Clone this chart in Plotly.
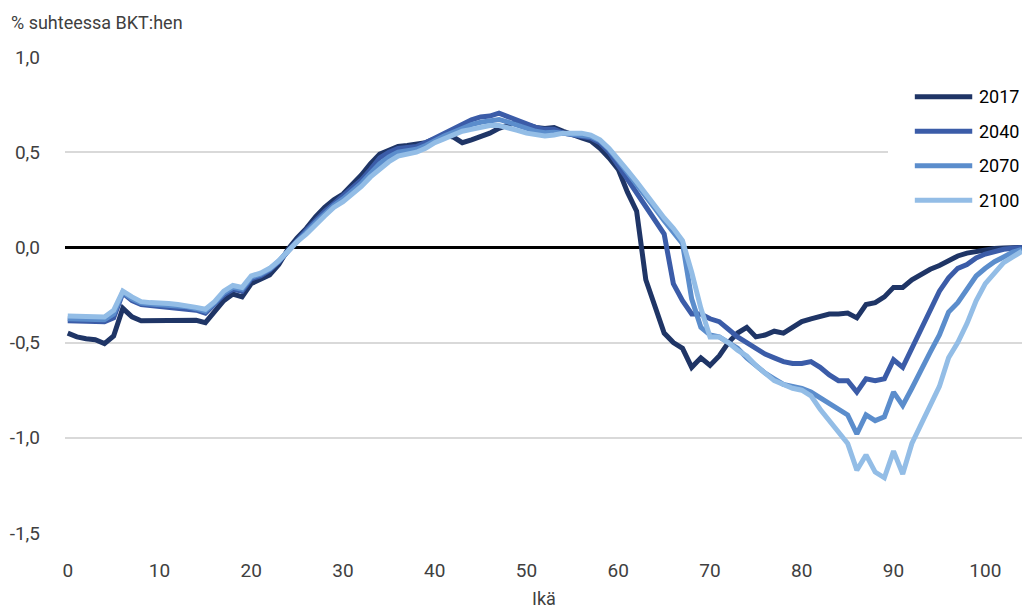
import plotly.graph_objects as go

# Ikä 0-104
ages = list(range(105))

y2017 = [-0.45, -0.47, -0.48, -0.485, -0.505, -0.465, -0.32, -0.365, -0.385, -0.385,
         -0.383, -0.383, -0.382, -0.382, -0.383, -0.395, -0.34, -0.28, -0.245, -0.26,
         -0.19, -0.17, -0.145, -0.09, -0.01, 0.05, 0.10, 0.16, 0.21, 0.25,
         0.28, 0.33, 0.38, 0.44, 0.49, 0.51, 0.53, 0.535, 0.54, 0.55,
         0.57, 0.59, 0.58, 0.55, 0.565, 0.58, 0.60, 0.625, 0.645, 0.66,
         0.645, 0.63, 0.625, 0.63, 0.61, 0.59, 0.575, 0.56, 0.52, 0.47,
         0.41, 0.29, 0.19, -0.17, -0.32, -0.45, -0.50, -0.53, -0.63, -0.58,
         -0.62, -0.57, -0.50, -0.45, -0.42, -0.47, -0.46, -0.44, -0.45, -0.42,
         -0.39, -0.375, -0.365, -0.35, -0.35, -0.345, -0.37, -0.30, -0.29, -0.26,
         -0.21, -0.21, -0.17, -0.14, -0.115, -0.095, -0.07, -0.045, -0.03, -0.02,
         -0.012, -0.006, -0.003, -0.001, 0.0]

y2040 = [-0.385, -0.385, -0.385, -0.385, -0.39, -0.37, -0.24, -0.28, -0.30, -0.305,
         -0.31, -0.31, -0.315, -0.32, -0.33, -0.345, -0.30, -0.25, -0.22, -0.23,
         -0.165, -0.15, -0.12, -0.075, -0.02, 0.04, 0.09, 0.14, 0.19, 0.23,
         0.27, 0.31, 0.355, 0.41, 0.47, 0.50, 0.52, 0.525, 0.53, 0.55,
         0.575, 0.60, 0.62, 0.645, 0.67, 0.685, 0.69, 0.705, 0.685, 0.665,
         0.645, 0.63, 0.62, 0.62, 0.60, 0.59, 0.585, 0.575, 0.55, 0.50,
         0.43, 0.36, 0.29, 0.22, 0.14, 0.07, -0.19, -0.28, -0.35, -0.35,
         -0.375, -0.39, -0.43, -0.47, -0.50, -0.53, -0.56, -0.58, -0.60, -0.61,
         -0.61, -0.60, -0.63, -0.67, -0.70, -0.70, -0.76, -0.69, -0.70, -0.69,
         -0.59, -0.63, -0.53, -0.43, -0.33, -0.23, -0.16, -0.11, -0.09, -0.055,
         -0.035, -0.02, -0.01, -0.004, 0.0]

y2070 = [-0.375, -0.375, -0.375, -0.375, -0.38, -0.35, -0.235, -0.27, -0.292, -0.297,
         -0.30, -0.302, -0.307, -0.312, -0.322, -0.335, -0.292, -0.24, -0.21, -0.22,
         -0.157, -0.142, -0.115, -0.072, -0.02, 0.035, 0.08, 0.13, 0.178, 0.22,
         0.255, 0.295, 0.337, 0.39, 0.44, 0.475, 0.50, 0.508, 0.515, 0.535,
         0.562, 0.585, 0.605, 0.628, 0.645, 0.657, 0.665, 0.672, 0.658, 0.64,
         0.622, 0.61, 0.602, 0.605, 0.60, 0.595, 0.592, 0.582, 0.56, 0.515,
         0.455, 0.395, 0.33, 0.265, 0.205, 0.14, 0.085, 0.02, -0.27, -0.42,
         -0.46, -0.47, -0.50, -0.53, -0.58, -0.62, -0.66, -0.69, -0.72, -0.73,
         -0.74, -0.76, -0.79, -0.82, -0.85, -0.88, -0.98, -0.88, -0.91, -0.89,
         -0.76, -0.83, -0.74, -0.64, -0.55, -0.46, -0.34, -0.29, -0.22, -0.15,
         -0.11, -0.075, -0.05, -0.025, -0.01]

y2100 = [-0.36, -0.36, -0.36, -0.36, -0.365, -0.33, -0.23, -0.26, -0.285, -0.29,
         -0.29, -0.295, -0.30, -0.305, -0.315, -0.325, -0.285, -0.23, -0.20, -0.21,
         -0.15, -0.135, -0.11, -0.07, -0.02, 0.03, 0.07, 0.12, 0.165, 0.21,
         0.24, 0.28, 0.32, 0.37, 0.41, 0.45, 0.48, 0.49, 0.50, 0.52,
         0.55, 0.57, 0.59, 0.61, 0.62, 0.63, 0.64, 0.64, 0.63, 0.615,
         0.60, 0.59, 0.585, 0.59, 0.60, 0.60, 0.60, 0.59, 0.565, 0.52,
         0.465, 0.405, 0.345, 0.28, 0.22, 0.155, 0.10, 0.035, -0.13, -0.32,
         -0.47, -0.47, -0.50, -0.54, -0.57, -0.62, -0.66, -0.70, -0.72, -0.74,
         -0.75, -0.78, -0.85, -0.91, -0.98, -1.03, -1.17, -1.09, -1.18, -1.21,
         -1.07, -1.19, -1.03, -0.93, -0.82, -0.73, -0.58, -0.50, -0.40, -0.28,
         -0.19, -0.13, -0.08, -0.05, -0.02]

names = ["2017", "2040", "2070", "2100"]
colors = ["#1f3566", "#3b5ca8", "#5b8dcc", "#93bde6"]
series = [y2017, y2040, y2070, y2100]

ytick_vals = [1.0, 0.5, 0.0, -0.5, -1.0, -1.5]
ytick_text = ["1,0", "0,5", "0,0", "-0,5", "-1,0", "-1,5"]
xtick_vals = [0, 10, 20, 30, 40, 50, 60, 70, 80, 90, 100]

font_family = "Roboto, sans-serif"

fig = go.Figure()
for name, col, ys in zip(names, colors, series):
    fig.add_trace(go.Scatter(x=ages, y=ys, name=name, mode="lines",
                             line=dict(color=col, width=5), showlegend=False))

# hand-made legend (longer line samples than plotly's own)
shapes = [dict(type="rect", xref="paper", yref="paper", x0=0.86, x1=1.0,
               y0=0.66, y1=0.96, fillcolor="white", line=dict(width=0), layer="above")]
annotations = []
for i, (name, col) in enumerate(zip(names, colors)):
    yy = 0.9166 - i * 0.0725
    shapes.append(dict(type="line", xref="paper", yref="paper", x0=0.888, x1=0.948,
                       y0=yy, y1=yy, line=dict(color=col, width=5), layer="above"))
    annotations.append(dict(x=0.953, y=yy, xref="paper", yref="paper", text=name,
                            showarrow=False, xanchor="left", yanchor="middle",
                            font=dict(size=18, color="black")))

annotations.append(dict(x=-0.058, y=1.0735, xref="paper", yref="paper",
                        text="% suhteessa BKT:hen", showarrow=False,
                        xanchor="left", yanchor="middle",
                        font=dict(size=18, color="#404040")))
annotations.append(dict(x=0.5, y=-0.112, xref="paper", yref="paper",
                        text="Ikä", showarrow=False,
                        xanchor="center", yanchor="top",
                        font=dict(size=18, color="#404040")))

fig.update_layout(
    width=1024, height=611,
    margin=dict(l=65, r=2, t=57, b=78),
    plot_bgcolor="white", paper_bgcolor="white",
    font=dict(family=font_family, size=19, color="#404040"),
    shapes=shapes, annotations=annotations,
    xaxis=dict(range=[-0.3, 104], tickvals=xtick_vals, showgrid=False,
               zeroline=False, showline=False, ticks="", ticklabelstandoff=24,
               automargin=False),
    yaxis=dict(range=[-1.5, 1.0], tickvals=ytick_vals, ticktext=ytick_text,
               showgrid=True, gridcolor="#d9d9d9", gridwidth=1.5,
               zeroline=True, zerolinecolor="black", zerolinewidth=3,
               showline=False, ticks="", ticklabelstandoff=24,
               automargin=False),
)

fig.write_html("out.html", config={"displayModeBar": False},
               post_script="document.body.style.margin='0';document.body.style.overflow='hidden';")
